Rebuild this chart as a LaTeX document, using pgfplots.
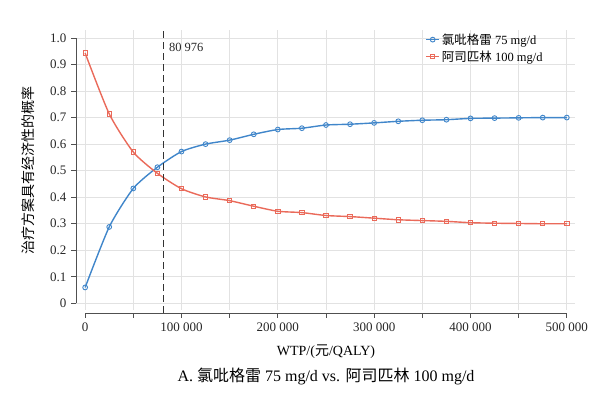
\documentclass[border=0pt]{standalone}
\usepackage{pgfplots}
\pgfplotsset{compat=1.18}
\usepackage{fontspec}
\setmainfont{Liberation Serif}
\newfontfamily\cjk{Noto Sans CJK SC}
\definecolor{cblue}{RGB}{64,134,202}
\definecolor{cred}{RGB}{234,106,90}
\definecolor{axgray}{RGB}{80,80,80}
\definecolor{gridgray}{RGB}{226,226,226}
\begin{document}
\begin{tikzpicture}
\path[use as bounding box] (0,0) rectangle (607pt,-396pt);
\begin{axis}[
  at={(76pt,-310pt)}, anchor=south west,
  scale only axis, width=499pt, height=280pt,
  xmin=-9500, xmax=508500, ymin=-0.025, ymax=1.03,
  clip=false,
  scaled x ticks=false, scaled y ticks=false,
  axis line style={draw=none},
  tick style={draw=none},
  xtick={0,100000,200000,300000,400000,500000},
  xticklabels={0,100 000,200 000,300 000,400 000,500 000},
  minor xtick={50000,150000,250000,350000,450000},
  ytick={0,0.1,0.2,0.3,0.4,0.5,0.6,0.7,0.8,0.9,1.0},
  yticklabels={0,0.1,0.2,0.3,0.4,0.5,0.6,0.7,0.8,0.9,1.0},
  grid=both,
  major grid style={gridgray, line width=0.7pt},
  minor grid style={gridgray, line width=0.7pt},
  /pgf/number format/assume math mode=true,
  ticklabel style={font=\fontsize{13}{15}\selectfont, text=black!85},
  xticklabel style={yshift=-9pt},
  yticklabel style={xshift=-6pt},
  legend style={draw=none, fill=none, at={(0.70,0.995)}, anchor=north west,
    font=\fontsize{12.5}{15}\selectfont, row sep=1pt, inner sep=0pt},
  legend cell align=left,
  legend image code/.code={
    \draw[#1] (0pt,0pt) -- (13pt,0pt);
    \draw[#1, only marks] plot coordinates {(6.5pt,0pt)};
  },
]
\addplot[cblue, line width=1.4pt, smooth, tension=0.4, mark=o, mark size=2.4pt,
  mark options={fill=white, line width=0.9pt, solid}]
coordinates {
(0,0.060) (25000,0.288) (50000,0.433) (75000,0.513) (100000,0.572)
(125000,0.600) (150000,0.615) (175000,0.637) (200000,0.655) (225000,0.660)
(250000,0.672) (275000,0.675) (300000,0.680) (325000,0.686) (350000,0.690)
(375000,0.692) (400000,0.697) (425000,0.698) (450000,0.699) (475000,0.700) (500000,0.700)
};
\addlegendentry{{\cjk 氯吡格雷} 75 mg/d}
\addplot[cred, line width=1.4pt, smooth, tension=0.4, mark=square, mark size=2.2pt,
  mark options={fill=white, line width=0.9pt, solid}]
coordinates {
(0,0.943) (25000,0.714) (50000,0.570) (75000,0.490) (100000,0.432)
(125000,0.401) (150000,0.387) (175000,0.366) (200000,0.347) (225000,0.342)
(250000,0.331) (275000,0.327) (300000,0.321) (325000,0.315) (350000,0.312)
(375000,0.309) (400000,0.304) (425000,0.302) (450000,0.301) (475000,0.300) (500000,0.300)
};
\addlegendentry{{\cjk 阿司匹林} 100 mg/d}
% y axis line and ticks
\draw[axgray, line width=0.9pt] (axis cs:-9500,0) -- (axis cs:-9500,1);
\foreach \yy in {0,0.1,0.2,0.3,0.4,0.5,0.6,0.7,0.8,0.9,1.0} {
  \edef\temp{\noexpand\draw[axgray, line width=0.9pt] (axis cs:-9500,\yy) -- ++(-5pt,0pt);}
  \temp
}
% x axis line and ticks
\draw[axgray, line width=0.9pt] (axis cs:0,-0.037) -- (axis cs:500000,-0.037);
\foreach \xx in {0,50000,100000,150000,200000,250000,300000,350000,400000,450000,500000} {
  \edef\temp{\noexpand\draw[axgray, line width=0.9pt] (axis cs:\xx,-0.037) -- ++(0pt,-4.5pt);}
  \temp
}
% threshold
\draw[black!80, line width=0.9pt, dash pattern=on 7pt off 4pt] (axis cs:80976,-0.037) -- (axis cs:80976,1.03);
\node[anchor=west, font=\fontsize{12.5}{15}\selectfont, text=black!85] at (axis cs:83500,0.965) {80 976};
\end{axis}
\node[rotate=90, font=\fontsize{14}{16}\selectfont\cjk] at (28pt,-170pt) {治疗方案具有经济性的概率};
\node[font=\fontsize{14}{16}\selectfont] at (326pt,-352pt) {WTP/({\cjk 元}/QALY)};
\node[font=\fontsize{16}{18}\selectfont] at (326pt,-376pt) {A. {\cjk 氯吡格雷} 75 mg/d vs. {\cjk 阿司匹林} 100 mg/d};
\end{tikzpicture}
\end{document}
